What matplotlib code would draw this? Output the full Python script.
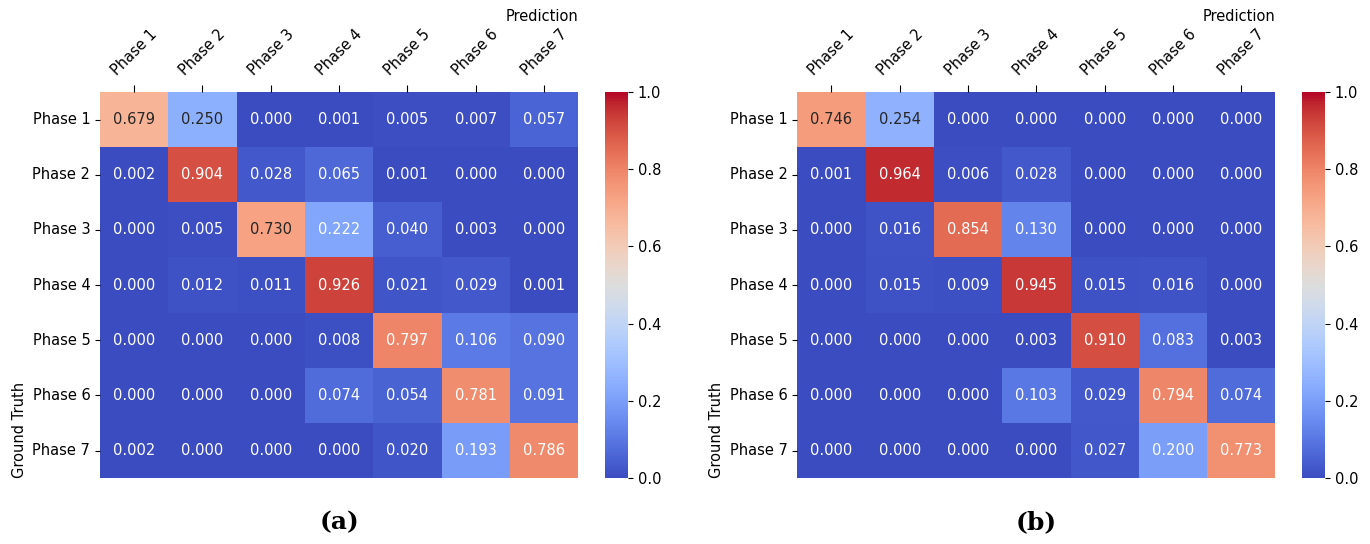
import matplotlib
matplotlib.use("Agg")
import matplotlib.pyplot as plt
import numpy as np
import seaborn as sns

phases = ["Phase 1", "Phase 2", "Phase 3", "Phase 4", "Phase 5", "Phase 6", "Phase 7"]

# confusion matrix (a)
cm_a = [
    [0.679, 0.250, 0.000, 0.001, 0.005, 0.007, 0.057],
    [0.002, 0.904, 0.028, 0.065, 0.001, 0.000, 0.000],
    [0.000, 0.005, 0.730, 0.222, 0.040, 0.003, 0.000],
    [0.000, 0.012, 0.011, 0.926, 0.021, 0.029, 0.001],
    [0.000, 0.000, 0.000, 0.008, 0.797, 0.106, 0.090],
    [0.000, 0.000, 0.000, 0.074, 0.054, 0.781, 0.091],
    [0.002, 0.000, 0.000, 0.000, 0.020, 0.193, 0.786],
]

# confusion matrix (b)
cm_b = [
    [0.746, 0.254, 0.000, 0.000, 0.000, 0.000, 0.000],
    [0.001, 0.964, 0.006, 0.028, 0.000, 0.000, 0.000],
    [0.000, 0.016, 0.854, 0.130, 0.000, 0.000, 0.000],
    [0.000, 0.015, 0.009, 0.945, 0.015, 0.016, 0.000],
    [0.000, 0.000, 0.000, 0.003, 0.910, 0.083, 0.003],
    [0.000, 0.000, 0.000, 0.103, 0.029, 0.794, 0.074],
    [0.000, 0.000, 0.000, 0.000, 0.027, 0.200, 0.773],
]

panel_labels = ["(a)", "(b)"]

fig = plt.figure(figsize=(13.7, 5.44), dpi=100)

layout = [
    # heatmap axes, colorbar axes
    ([0.073, 0.121, 0.349, 0.710], [0.4416, 0.121, 0.0168, 0.710]),
    ([0.582, 0.121, 0.349, 0.710], [0.9504, 0.121, 0.0168, 0.710]),
]

for cm, label, (hm_pos, cb_pos) in zip([cm_a, cm_b], panel_labels, layout):
    ax = fig.add_axes(hm_pos)
    cax = fig.add_axes(cb_pos)
    sns.heatmap(np.array(cm), ax=ax, cbar_ax=cax, cmap="coolwarm", vmin=0, vmax=1,
                annot=True, fmt=".3f", annot_kws={"fontsize": 10.5},
                xticklabels=phases, yticklabels=phases)
    ax.xaxis.tick_top()
    ax.xaxis.set_label_position("top")
    ax.tick_params(axis="x", length=5, pad=5)
    ax.set_xticklabels(phases, rotation=45, ha="center", fontsize=10.5)
    ax.set_yticklabels(phases, rotation=0, fontsize=10.5)
    ax.set_xlabel("Prediction", loc="right", fontsize=10.5)
    ax.set_ylabel("Ground Truth", loc="bottom", fontsize=10.5)
    cax.tick_params(labelsize=10.5)
    cax.set_yticks([0.0, 0.2, 0.4, 0.6, 0.8, 1.0])
    ax.text(0.5, -0.115, label, transform=ax.transAxes, ha="center", va="center",
            fontsize=18, fontweight="bold", family="DejaVu Serif")

fig.savefig("out.png", dpi=100)
